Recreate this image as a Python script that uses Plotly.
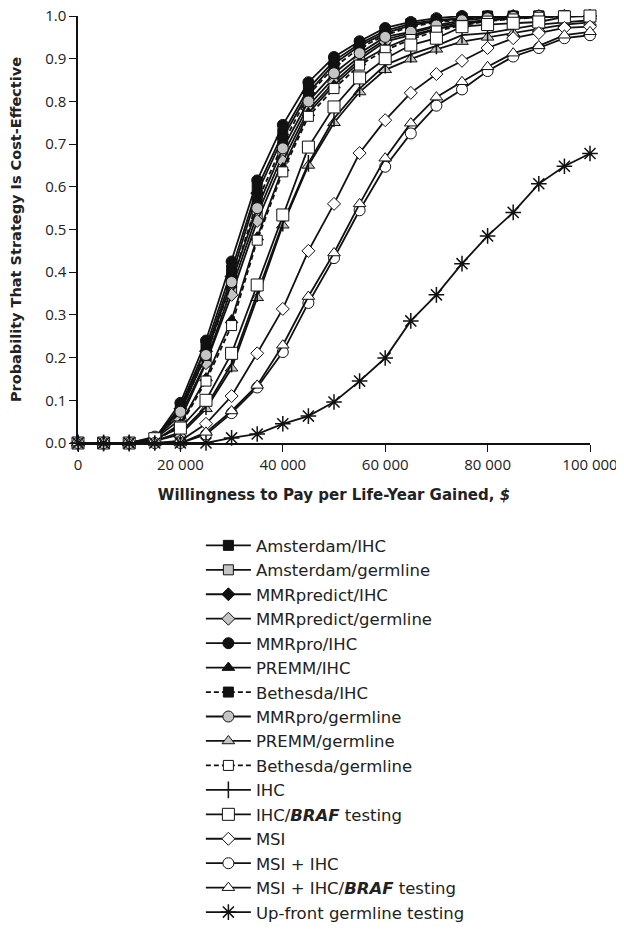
import plotly.graph_objs as go

wtp = list(range(0, 100001, 5000))

amsterdam_ihc = [0, 0, 0, 0.01, 0.085, 0.225, 0.405, 0.597, 0.725, 0.83, 0.895, 0.935, 0.965, 0.982, 0.99, 0.995, 1.0, 1.0, 1.0, 1.0, 1.0]
amsterdam_germ = [0, 0, 0, 0.012, 0.065, 0.19, 0.36, 0.535, 0.675, 0.79, 0.855, 0.905, 0.945, 0.96, 0.975, 0.985, 0.99, 0.995, 0.998, 1.0, 1.0]
mmrpredict_ihc = [0, 0, 0, 0.01, 0.08, 0.215, 0.39, 0.585, 0.715, 0.82, 0.888, 0.93, 0.96, 0.978, 0.988, 0.994, 0.998, 1.0, 1.0, 1.0, 1.0]
mmrpredict_germ = [0, 0, 0, 0.01, 0.055, 0.187, 0.347, 0.52, 0.66, 0.78, 0.845, 0.898, 0.94, 0.955, 0.97, 0.982, 0.99, 0.995, 0.997, 1.0, 1.0]
mmrpro_ihc = [0, 0, 0, 0.01, 0.094, 0.24, 0.425, 0.615, 0.745, 0.845, 0.904, 0.941, 0.972, 0.986, 0.995, 1.0, 1.0, 1.0, 1.0, 1.0, 1.0]
premm_ihc = [0, 0, 0, 0.005, 0.045, 0.152, 0.288, 0.482, 0.644, 0.773, 0.838, 0.892, 0.925, 0.95, 0.97, 0.98, 0.99, 0.995, 0.998, 1.0, 1.0]
bethesda_ihc = [0, 0, 0, 0.01, 0.075, 0.205, 0.375, 0.565, 0.70, 0.815, 0.88, 0.925, 0.955, 0.975, 0.985, 0.992, 0.996, 0.998, 1.0, 1.0, 1.0]
mmrpro_germ = [0, 0, 0, 0.015, 0.073, 0.206, 0.377, 0.55, 0.69, 0.80, 0.866, 0.913, 0.951, 0.963, 0.978, 0.99, 0.995, 0.998, 1.0, 1.0, 1.0]
premm_germ = [0, 0, 0, 0.005, 0.02, 0.08, 0.175, 0.34, 0.51, 0.65, 0.75, 0.822, 0.874, 0.899, 0.922, 0.94, 0.95, 0.96, 0.97, 0.98, 0.985]
bethesda_germ = [0, 0, 0, 0.005, 0.04, 0.145, 0.275, 0.475, 0.635, 0.765, 0.83, 0.885, 0.92, 0.945, 0.965, 0.978, 0.988, 0.993, 0.997, 0.999, 1.0]
ihc = [0, 0, 0, 0.005, 0.025, 0.085, 0.185, 0.35, 0.515, 0.655, 0.76, 0.83, 0.885, 0.91, 0.93, 0.955, 0.96, 0.97, 0.98, 0.985, 0.99]
ihc_braf = [0, 0, 0, 0.01, 0.035, 0.10, 0.21, 0.37, 0.534, 0.693, 0.787, 0.855, 0.90, 0.932, 0.948, 0.975, 0.98, 0.983, 0.986, 0.998, 1.0]
msi = [0, 0, 0, 0, 0.005, 0.045, 0.11, 0.21, 0.314, 0.45, 0.56, 0.679, 0.756, 0.82, 0.864, 0.895, 0.925, 0.948, 0.96, 0.972, 0.975]
msi_ihc = [0, 0, 0, 0, 0, 0.02, 0.07, 0.13, 0.213, 0.328, 0.433, 0.545, 0.647, 0.725, 0.79, 0.828, 0.871, 0.905, 0.925, 0.948, 0.955]
msi_ihc_braf = [0, 0, 0, 0, 0, 0.025, 0.075, 0.135, 0.229, 0.343, 0.445, 0.56, 0.667, 0.749, 0.81, 0.846, 0.881, 0.913, 0.93, 0.955, 0.963]
upfront = [0, 0, 0, 0, 0, 0, 0.012, 0.021, 0.045, 0.063, 0.096, 0.145, 0.199, 0.286, 0.347, 0.42, 0.485, 0.54, 0.607, 0.648, 0.678]

BLACK = "#111111"
GRAY = "#c4c4c4"
WHITE = "#ffffff"
DASH = "5px,3px"

# name, values, symbol, fill, dash, size
series = [
    ("Amsterdam/IHC", amsterdam_ihc, "square", BLACK, "solid", 10),
    ("Amsterdam/germline", amsterdam_germ, "square", GRAY, "solid", 10),
    ("MMRpredict/IHC", mmrpredict_ihc, "diamond", BLACK, "solid", 10),
    ("MMRpredict/germline", mmrpredict_germ, "diamond", GRAY, "solid", 10),
    ("MMRpro/IHC", mmrpro_ihc, "circle", BLACK, "solid", 11),
    ("PREMM/IHC", premm_ihc, "triangle-up", BLACK, "solid", 11),
    ("Bethesda/IHC", bethesda_ihc, "square", BLACK, DASH, 10),
    ("MMRpro/germline", mmrpro_germ, "circle", GRAY, "solid", 11),
    ("PREMM/germline", premm_germ, "triangle-up", GRAY, "solid", 11),
    ("Bethesda/germline", bethesda_germ, "square", WHITE, DASH, 10),
    ("IHC", ihc, "line-ns-open", BLACK, "solid", 12),
    ("IHC/<b><i>BRAF</i></b> testing", ihc_braf, "square", WHITE, "solid", 12),
    ("MSI", msi, "diamond", WHITE, "solid", 10),
    ("MSI + IHC", msi_ihc, "circle", WHITE, "solid", 11),
    ("MSI + IHC/<b><i>BRAF</i></b> testing", msi_ihc_braf, "triangle-up", WHITE, "solid", 11),
    ("Up-front germline testing", upfront, "asterisk-open", BLACK, "solid", 13),
]

fig = go.Figure()
for name, vals, sym, fill, dash, size in series:
    fig.add_trace(go.Scatter(
        x=wtp, y=vals, name=name, mode="lines+markers", cliponaxis=False,
        line=dict(color=BLACK, width=1.8, dash=dash),
        marker=dict(symbol=sym, size=size, color=fill,
                    line=dict(color=BLACK, width=1.5 if "open" in sym else 1)),
    ))

# page body adds 8px, so the figure is 8px smaller each way
fig.update_layout(
    width=616, height=924,
    margin=dict(l=70, r=34, t=8, b=489, autoexpand=False),
    plot_bgcolor="white", paper_bgcolor="white",
    font=dict(family="Open Sans", size=15, color="#222222"),
    showlegend=True,
    legend=dict(
        x=0.24, y=-0.1994, xanchor="left", yanchor="top",
        font=dict(family="DejaVu Sans", size=16.5, color="#222222"),
        itemwidth=45, traceorder="normal", bgcolor="rgba(0,0,0,0)",
    ),
    xaxis=dict(
        range=[0, 100000], tickvals=[0, 20000, 40000, 60000, 80000, 100000],
        ticktext=["0", "20 000", "40 000", "60 000", "80 000", "100 000"],
        showline=True, linecolor=BLACK, linewidth=1.5, ticks="outside",
        ticklen=7, tickcolor=BLACK, showgrid=False, zeroline=False,
        automargin=False, ticklabeloverflow="allow",
        title=dict(text="Willingness to Pay per Life-Year Gained, <i>$</i>",
                   font=dict(family="DejaVu Sans", size=15, weight=700), standoff=17),
    ),
    yaxis=dict(
        range=[0, 1.0], tickvals=[i / 10 for i in range(11)], tickformat=".1f",
        showline=True, linecolor=BLACK, linewidth=1.5, ticks="outside",
        ticklen=7, tickcolor=BLACK, showgrid=False, zeroline=False,
        automargin=False, ticklabeloverflow="allow",
        title=dict(text="Probability That Strategy Is Cost-Effective",
                   font=dict(family="DejaVu Sans", size=14.5, weight=700), standoff=20),
    ),
)

fig.write_html("out.html")
